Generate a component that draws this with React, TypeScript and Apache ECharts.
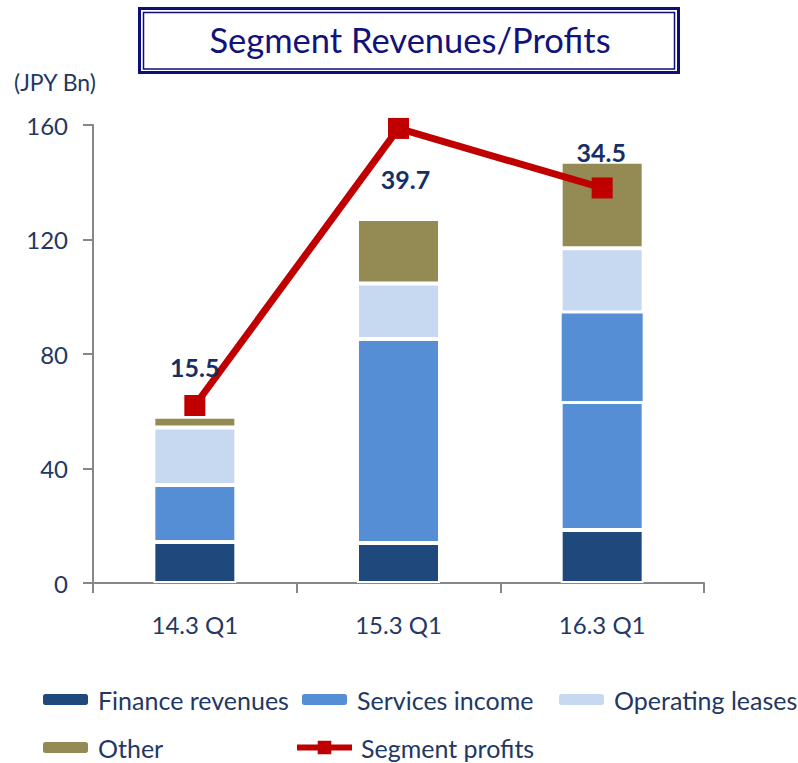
import React, { useEffect, useRef } from "react";
import * as echarts from "echarts";

const categories = ["14.3 Q1", "15.3 Q1", "16.3 Q1"];
const financeRevenues = [14.3, 14.0, 18.5];
const servicesIncome = [19.9, 71.2, 44.7];
const servicesIncomeUpper = [null, null, 31.3];
const operatingLeases = [20.1, 19.4, 22.4];
const other = [3.8, 22.6, 30.3];
const segmentProfits = [15.5, 39.7, 34.5];
const yTicks = [0, 40, 80, 120, 160];
const profitLabelOffsets = [
  [0, -39],
  [7, 51],
  [-1, -36],
];

const NAVY = "#1F3864";
const AXIS = "#878787";
const FONT = "Lato";

export default function App() {
  const ref = useRef<HTMLDivElement>(null);
  useEffect(() => {
    if (!ref.current) return;
    const chart = echarts.init(ref.current, null, { renderer: "svg" });
    const barBase = {
      type: "bar",
      stack: "rev",
      barWidth: 83,
      itemStyle: { borderColor: "#ffffff", borderWidth: 2 },
    };
    const legendBase = {
      orient: "horizontal",
      padding: 0,
      itemWidth: 47,
      itemHeight: 13,
      textStyle: { color: NAVY, fontSize: 25, fontFamily: FONT, padding: [0, 0, 0, 4] },
    };
    const option = {
      animation: false,
      title: [
        {
          text: "Segment Revenues/Profits",
          left: 410,
          top: 22,
          textAlign: "center",
          padding: 0,
          textStyle: { color: "#12127A", fontSize: 34.5, fontWeight: "normal", fontFamily: FONT },
        },
        {
          text: "(JPY Bn)",
          left: 14,
          top: 70,
          padding: 0,
          textStyle: { color: NAVY, fontSize: 23, fontWeight: "normal", fontFamily: FONT },
        },
      ],
      graphic: [
        {
          type: "rect",
          shape: { x: 139.5, y: 8.5, width: 539, height: 64 },
          style: { fill: "none", stroke: "#0E0E78", lineWidth: 3 },
        },
        {
          type: "rect",
          shape: { x: 143.5, y: 12.5, width: 531, height: 56.5 },
          style: { fill: "none", stroke: "#0E0E78", lineWidth: 1.5 },
        },
      ],
      legend: [
        { ...legendBase, left: 41, top: 687, data: ["Finance revenues"] },
        { ...legendBase, left: 300, top: 687, data: ["Services income"] },
        { ...legendBase, left: 557, top: 687, data: ["Operating leases"] },
        { ...legendBase, left: 41, top: 735, data: ["Other"] },
        {
          ...legendBase,
          left: 294,
          top: 735,
          itemWidth: 55,
          itemHeight: 17,
          lineStyle: { width: 6, color: "#C00000" },
          data: ["Segment profits"],
        },
      ],
      grid: { left: 93, right: 94, top: 125, bottom: 180, containLabel: false },
      xAxis: {
        type: "category",
        data: categories,
        boundaryGap: true,
        axisLine: { show: true, lineStyle: { color: AXIS, width: 2 } },
        axisTick: { show: true, length: 10, lineStyle: { color: AXIS, width: 2 } },
        axisLabel: { color: NAVY, fontSize: 24, fontFamily: FONT, margin: 29 },
        splitLine: { show: false },
      },
      yAxis: [
        {
          type: "value",
          min: yTicks[0],
          max: yTicks[yTicks.length - 1],
          interval: 40,
          axisLine: { show: true, lineStyle: { color: AXIS, width: 2 } },
          axisTick: { show: true, length: 10, lineStyle: { color: AXIS, width: 2 } },
          axisLabel: { color: NAVY, fontSize: 24, fontFamily: FONT, margin: 25 },
          splitLine: { show: false },
        },
        {
          type: "value",
          min: 0,
          max: 40,
          show: false,
          splitLine: { show: false },
        },
      ],
      series: [
        { ...barBase, name: "Finance revenues", data: financeRevenues, itemStyle: { ...barBase.itemStyle, color: "#1F497D" } },
        { ...barBase, name: "Services income", data: servicesIncome, itemStyle: { ...barBase.itemStyle, color: "#558ED5" } },
        { ...barBase, name: "Services income", data: servicesIncomeUpper, itemStyle: { ...barBase.itemStyle, color: "#558ED5", borderWidth: 1 } },
        { ...barBase, name: "Operating leases", data: operatingLeases, itemStyle: { ...barBase.itemStyle, color: "#C6D9F1" } },
        { ...barBase, name: "Other", data: other, itemStyle: { ...barBase.itemStyle, color: "#948A54" } },
        {
          type: "line",
          name: "Segment profits",
          yAxisIndex: 1,
          z: 5,
          symbol: "rect",
          symbolSize: 21,
          itemStyle: { color: "#C00000" },
          lineStyle: { color: "#C00000", width: 7 },
          data: segmentProfits.map((v, i) => ({
            value: v,
            label: {
              show: true,
              position: "inside",
              offset: profitLabelOffsets[i],
              formatter: (p: any) => p.value.toFixed(1),
              color: "#152F66",
              fontSize: 25,
              fontWeight: "bold",
              fontFamily: FONT,
            },
          })),
        },
      ],
    };
    chart.setOption(option as any);
    return () => chart.dispose();
  }, []);
  return <div ref={ref} style={{ width: 798, height: 763, position: "absolute", left: 0, top: 0 }} />;
}
